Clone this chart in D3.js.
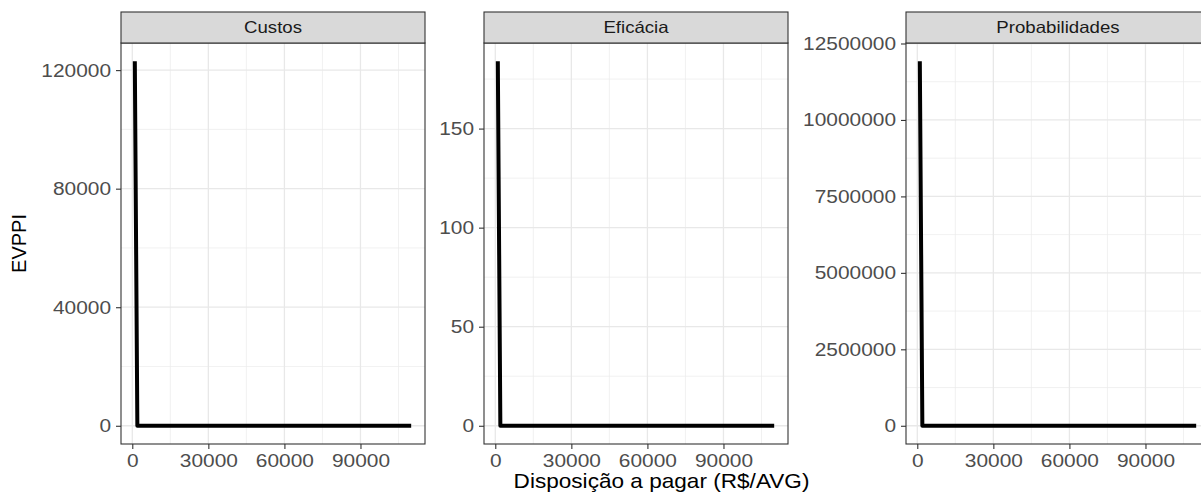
<!DOCTYPE html>
<html>
<head>
<meta charset="utf-8">
<script src="https://cdn.jsdelivr.net/npm/d3@7"></script>
<style>
  html, body { margin: 0; padding: 0; background: #ffffff; }
  svg { display: block; }
  text { font-family: "Liberation Sans", Arial, Helvetica, sans-serif; }
</style>
</head>
<body>
<svg id="chart" width="1201" height="494"></svg>
<script>
// Willingness-to-pay thresholds (R$/AVG) at which EVPPI was evaluated
const wtp = [1000, 2000, 110000];

// EVPPI by parameter group
const evppiCustos = [123000, 0, 0];
const evppiEficacia = [184, 0, 0];
const evppiProbabilidades = [11920000, 0, 0];

// Facet titles
const facetNames = ["Custos", "Eficácia", "Probabilidades"];

// Axis tick labels
const xTicks = [0, 30000, 60000, 90000];
const yTicksCustos = [0, 40000, 80000, 120000];
const yTicksEficacia = [0, 50, 100, 150];
const yTicksProbabilidades = [0, 2500000, 5000000, 7500000, 10000000, 12500000];

const xLabel = "Disposição a pagar (R$/AVG)";
const yLabel = "EVPPI";

const panels = [
  { name: facetNames[0], values: evppiCustos, yTicks: yTicksCustos, left: 121 },
  { name: facetNames[1], values: evppiEficacia, yTicks: yTicksEficacia, left: 484 },
  { name: facetNames[2], values: evppiProbabilidades, yTicks: yTicksProbabilidades, left: 906 }
];

const panelW = 304;
const stripTop = 12, stripH = 31;
const plotTop = stripTop + stripH, plotBottom = 444;
const tickFont = 18.5;
const textWiden = 1.13; // glyphs are set slightly wide

const svg = d3.select("#chart");

// ggplot-style 5% expansion around the data range
function expand(ext, m) {
  const span = ext[1] - ext[0];
  return [ext[0] - span * m, ext[1] + span * m];
}

// midpoints between consecutive major breaks, plus one step either side
function minorBreaks(ticks, domain) {
  const step = ticks[1] - ticks[0];
  const out = [];
  for (let v = ticks[0] - step / 2; v <= domain[1]; v += step) {
    if (v >= domain[0]) out.push(v);
  }
  return out;
}

panels.forEach(p => {
  const g = svg.append("g");
  const x = d3.scaleLinear()
    .domain(expand(d3.extent(wtp), 0.05))
    .range([p.left, p.left + panelW]);
  const y = d3.scaleLinear()
    .domain(expand(d3.extent(p.values), 0.05))
    .range([plotBottom, plotTop]);

  // clip for panel contents
  const clipId = "clip-" + p.left;
  svg.append("clipPath").attr("id", clipId)
    .append("rect")
    .attr("x", p.left).attr("y", plotTop)
    .attr("width", panelW).attr("height", plotBottom - plotTop);

  const inner = g.append("g").attr("clip-path", `url(#${clipId})`);

  // minor grid
  minorBreaks(xTicks, x.domain()).forEach(v => {
    inner.append("line")
      .attr("x1", x(v)).attr("x2", x(v))
      .attr("y1", plotTop).attr("y2", plotBottom)
      .attr("stroke", "#ebebeb").attr("stroke-width", 0.7);
  });
  minorBreaks(p.yTicks, y.domain()).forEach(v => {
    inner.append("line")
      .attr("x1", p.left).attr("x2", p.left + panelW)
      .attr("y1", y(v)).attr("y2", y(v))
      .attr("stroke", "#ebebeb").attr("stroke-width", 0.7);
  });
  // major grid
  xTicks.forEach(v => {
    inner.append("line")
      .attr("x1", x(v)).attr("x2", x(v))
      .attr("y1", plotTop).attr("y2", plotBottom)
      .attr("stroke", "#e8e8e8").attr("stroke-width", 1.3);
  });
  p.yTicks.forEach(v => {
    inner.append("line")
      .attr("x1", p.left).attr("x2", p.left + panelW)
      .attr("y1", y(v)).attr("y2", y(v))
      .attr("stroke", "#e8e8e8").attr("stroke-width", 1.3);
  });

  // EVPPI curve
  const line = d3.line()
    .x((d, i) => x(wtp[i]))
    .y(d => y(d));
  inner.append("path")
    .datum(p.values)
    .attr("d", line)
    .attr("fill", "none")
    .attr("stroke", "#000000")
    .attr("stroke-width", 4)
    .attr("stroke-linejoin", "round");

  // panel border
  g.append("rect")
    .attr("x", p.left).attr("y", plotTop)
    .attr("width", panelW).attr("height", plotBottom - plotTop)
    .attr("fill", "none").attr("stroke", "#333333").attr("stroke-width", 1.1);

  // strip
  g.append("rect")
    .attr("x", p.left).attr("y", stripTop)
    .attr("width", panelW).attr("height", stripH)
    .attr("fill", "#d9d9d9").attr("stroke", "#333333").attr("stroke-width", 1.1);
  g.append("text")
    .attr("transform", `translate(${p.left + panelW / 2},${stripTop + stripH / 2}) scale(${textWiden},1)`)
    .attr("dy", "0.35em")
    .attr("text-anchor", "middle")
    .attr("fill", "#1a1a1a")
    .style("font-size", "16.5px")
    .text(p.name);

  // axes
  const xAxis = g.append("g")
    .attr("transform", `translate(0,${plotBottom})`)
    .call(d3.axisBottom(x).tickValues(xTicks).tickFormat(d3.format("d")).tickSize(5).tickPadding(5));
  const yAxis = g.append("g")
    .attr("transform", `translate(${p.left},0)`)
    .call(d3.axisLeft(y).tickValues(p.yTicks).tickFormat(d3.format("d")).tickSize(5).tickPadding(5));
  [xAxis, yAxis].forEach(a => {
    a.select(".domain").remove();
    a.selectAll(".tick line").attr("stroke", "#333333").attr("stroke-width", 1.1);
    a.selectAll(".tick text")
      .attr("fill", "#4d4d4d")
      .style("font-size", tickFont + "px")
      .attr("font-family", null);
  });
  xAxis.selectAll(".tick text").attr("transform", `scale(${textWiden},1)`);
  yAxis.selectAll(".tick text")
    .attr("x", -10 / textWiden)
    .attr("transform", `scale(${textWiden},1)`);
});

// axis titles
svg.append("text")
  .attr("transform", `translate(${(121 + 906 + panelW) / 2 - 4},488) scale(${textWiden},1)`)
  .attr("text-anchor", "middle")
  .attr("fill", "#000000")
  .style("font-size", "20px")
  .text(xLabel);

svg.append("text")
  .attr("transform", `translate(26,${(plotTop + plotBottom) / 2}) rotate(-90)`)
  .attr("text-anchor", "middle")
  .attr("fill", "#000000")
  .style("font-size", "20px")
  .text(yLabel);
</script>
</body>
</html>
